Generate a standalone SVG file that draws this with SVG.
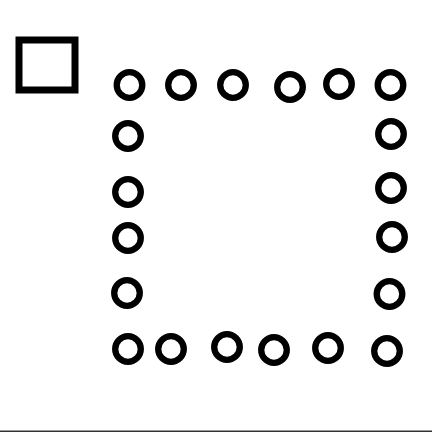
<svg xmlns="http://www.w3.org/2000/svg" width="432" height="432" viewBox="0 0 432 432">
<style>
.n{fill:none;stroke:#000;stroke-width:6.3}
.sq{fill:none;stroke:#000;stroke-width:7}
</style>
<rect width="432" height="432" fill="#fff"/>
<g id="square"><rect class="sq" x="19" y="40" width="56" height="50"/></g>
<g id="nodes">
<g id="t1"><circle class="n" cx="129.5" cy="85" r="12.8"/></g>
<g id="t2"><circle class="n" cx="181" cy="85" r="12.8"/></g>
<g id="t3"><circle class="n" cx="233" cy="85" r="12.8"/></g>
<g id="t4"><circle class="n" cx="290" cy="87" r="12.8"/></g>
<g id="t5"><circle class="n" cx="339" cy="84" r="12.8"/></g>
<g id="t6"><circle class="n" cx="390.5" cy="85" r="12.8"/></g>
<g id="l1"><circle class="n" cx="128" cy="136" r="12.8"/></g>
<g id="l2"><circle class="n" cx="128" cy="192" r="12.8"/></g>
<g id="l3"><circle class="n" cx="128" cy="238" r="12.8"/></g>
<g id="l4"><circle class="n" cx="127" cy="293" r="12.8"/></g>
<g id="r1"><circle class="n" cx="391" cy="134" r="12.8"/></g>
<g id="r2"><circle class="n" cx="391" cy="188" r="12.8"/></g>
<g id="r3"><circle class="n" cx="392" cy="237" r="12.8"/></g>
<g id="r4"><circle class="n" cx="389.5" cy="294" r="12.8"/></g>
<g id="b1"><circle class="n" cx="128" cy="349" r="12.8"/></g>
<g id="b2"><circle class="n" cx="171" cy="349" r="12.8"/></g>
<g id="b3"><circle class="n" cx="227" cy="347" r="12.8"/></g>
<g id="b4"><circle class="n" cx="274" cy="350" r="12.8"/></g>
<g id="b5"><circle class="n" cx="328" cy="348" r="12.8"/></g>
<g id="b6"><circle class="n" cx="387" cy="351" r="12.8"/></g>
</g>
<g id="connectors"></g>
<line x1="0" y1="431.3" x2="432" y2="431.3" stroke="#333" stroke-width="1.4"/>
</svg>
